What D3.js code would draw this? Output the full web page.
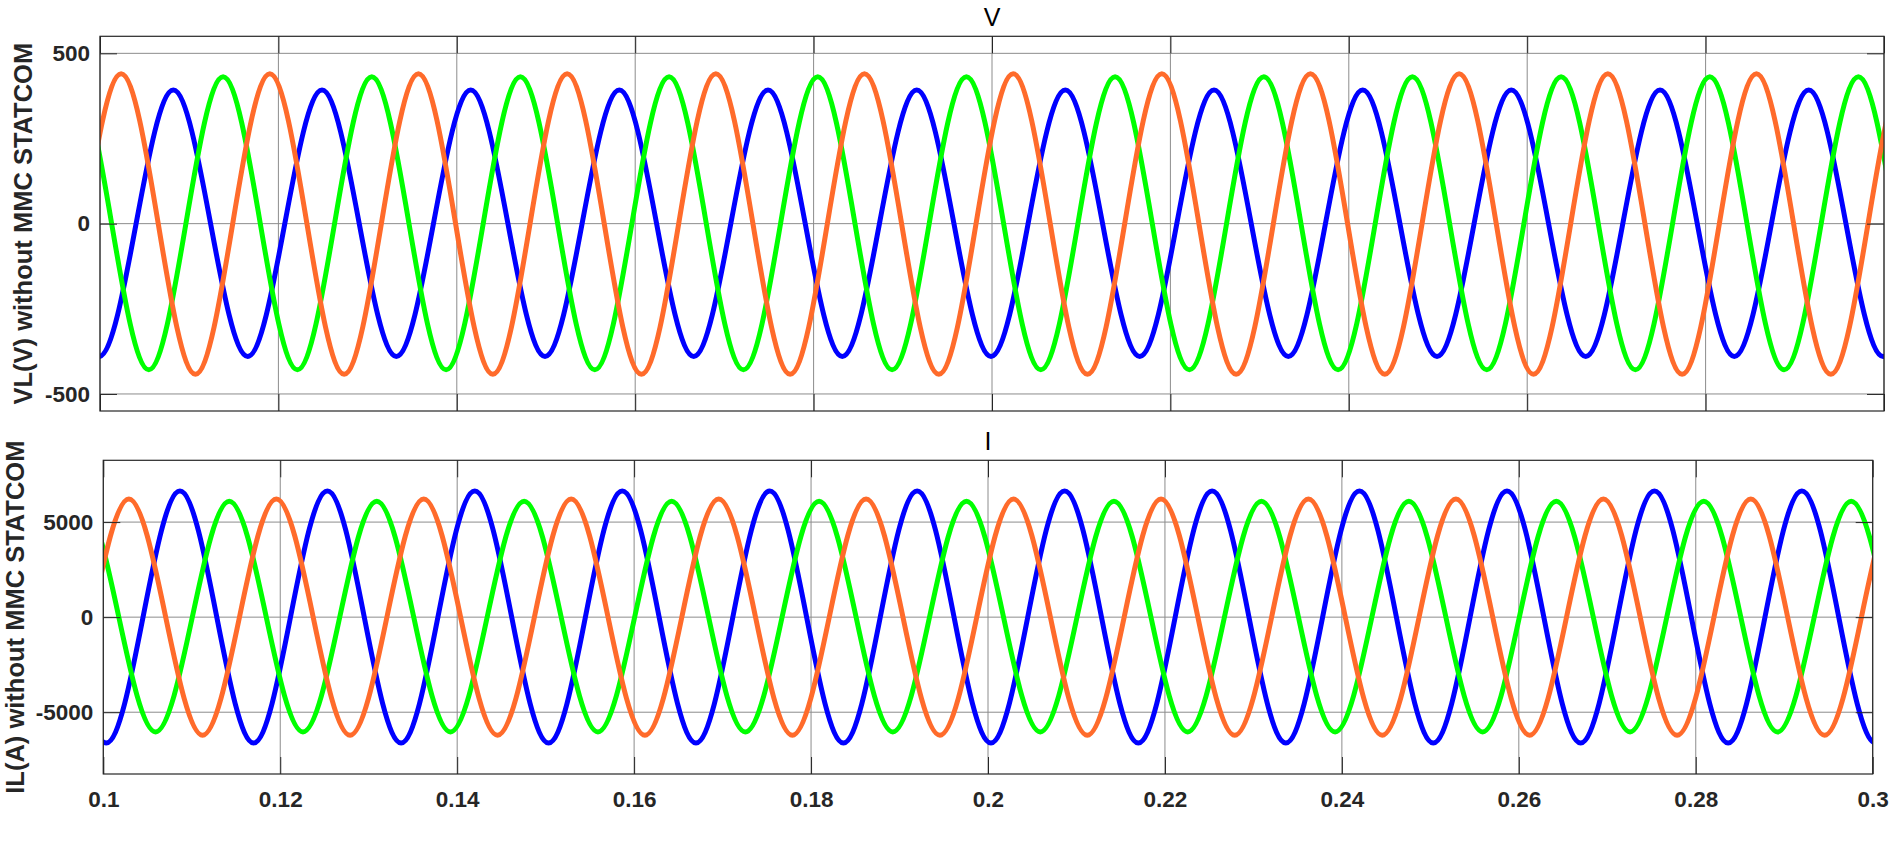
<!DOCTYPE html>
<html>
<head>
<meta charset="utf-8">
<script src="https://cdn.jsdelivr.net/npm/d3@7"></script>
<style>
  body { margin: 0; background: #fff; }
  text { font-family: "Liberation Sans", Arial, sans-serif; }
</style>
</head>
<body>
<div id="chart"></div>
<script>
// time ticks shared by both panels
const xTicks = [0.1, 0.12, 0.14, 0.16, 0.18, 0.2, 0.22, 0.24, 0.26, 0.28, 0.3];
const vTicks = [-500, 0, 500];
const iTicks = [-5000, 0, 5000];

// extrema (peaks / troughs), [time, value]
// one or two extra extrema on each side so the curve is right at the plot edges
const vBlue = [
  [0.09156, 392],
  [0.09989, -390], [0.10822, 392], [0.11656, -390], [0.12489, 392], [0.13322, -390],
  [0.14156, 392], [0.14989, -390], [0.15822, 392], [0.16656, -390], [0.17489, 392],
  [0.18322, -390], [0.19156, 392], [0.19989, -390], [0.20822, 392], [0.21656, -390],
  [0.22489, 392], [0.23322, -390], [0.24156, 392], [0.24989, -390], [0.25822, 392],
  [0.26656, -390], [0.27489, 392], [0.28322, -390], [0.29156, 392], [0.29989, -390],
  [0.30822, 392], [0.31656, -390]
];
const vGreen = [
  [0.08880, -429],
  [0.09713, 431], [0.10547, -429], [0.11380, 431], [0.12213, -429], [0.13047, 431],
  [0.13880, -429], [0.14713, 431], [0.15547, -429], [0.16380, 431], [0.17213, -429],
  [0.18047, 431], [0.18880, -429], [0.19713, 431], [0.20547, -429], [0.21380, 431],
  [0.22213, -429], [0.23047, 431], [0.23880, -429], [0.24713, 431], [0.25547, -429],
  [0.26380, 431], [0.27213, -429], [0.28047, 431], [0.28880, -429], [0.29713, 431],
  [0.30547, -429], [0.31380, 431]
];
const vOrange = [
  [0.08570, 440],
  [0.09404, -442], [0.10237, 440], [0.11070, -442], [0.11904, 440], [0.12737, -442],
  [0.13570, 440], [0.14404, -442], [0.15237, 440], [0.16070, -442], [0.16904, 440],
  [0.17737, -442], [0.18570, 440], [0.19404, -442], [0.20237, 440], [0.21070, -442],
  [0.21904, 440], [0.22737, -442], [0.23570, 440], [0.24404, -442], [0.25237, 440],
  [0.26070, -442], [0.26904, 440], [0.27737, -442], [0.28570, 440], [0.29404, -442],
  [0.30237, 440], [0.31070, -442]
];

const iBlue = [
  [0.08366, -6620],
  [0.09199, 6630], [0.10033, -6620], [0.10866, 6630], [0.11699, -6620], [0.12533, 6630],
  [0.13366, -6620], [0.14199, 6630], [0.15033, -6620], [0.15866, 6630], [0.16699, -6620],
  [0.17533, 6630], [0.18366, -6620], [0.19199, 6630], [0.20033, -6620], [0.20866, 6630],
  [0.21699, -6620], [0.22533, 6630], [0.23366, -6620], [0.24199, 6630], [0.25033, -6620],
  [0.25866, 6630], [0.26699, -6620], [0.27533, 6630], [0.28366, -6620], [0.29199, 6630],
  [0.30033, -6620], [0.30866, 6630]
];
const iGreen = [
  [0.08924, -6040],
  [0.09757, 6100], [0.10591, -6040], [0.11424, 6100], [0.12257, -6040], [0.13091, 6100],
  [0.13924, -6040], [0.14757, 6100], [0.15591, -6040], [0.16424, 6100], [0.17257, -6040],
  [0.18091, 6100], [0.18924, -6040], [0.19757, 6100], [0.20591, -6040], [0.21424, 6100],
  [0.22257, -6040], [0.23091, 6100], [0.23924, -6040], [0.24757, 6100], [0.25591, -6040],
  [0.26424, 6100], [0.27257, -6040], [0.28091, 6100], [0.28924, -6040], [0.29757, 6100],
  [0.30591, -6040], [0.31424, 6100]
];
const iOrange = [
  [0.08622, 6210],
  [0.09456, -6210], [0.10289, 6210], [0.11122, -6210], [0.11956, 6210], [0.12789, -6210],
  [0.13622, 6210], [0.14456, -6210], [0.15289, 6210], [0.16122, -6210], [0.16956, 6210],
  [0.17789, -6210], [0.18622, 6210], [0.19456, -6210], [0.20289, 6210], [0.21122, -6210],
  [0.21956, 6210], [0.22789, -6210], [0.23622, 6210], [0.24456, -6210], [0.25289, 6210],
  [0.26122, -6210], [0.26956, 6210], [0.27789, -6210], [0.28622, 6210], [0.29456, -6210],
  [0.30289, 6210], [0.31122, -6210]
];

const width = 1900;
const height = 849;
const axisColor = "#262626";
const gridColor = "#8c8c8c";
const colors = { blue: "#0000ff", green: "#00ff00", orange: "#ff6b2b" };

const panels = [
  {
    id: "v", title: "V", ylabel: "VL(V) without MMC STATCOM",
    left: 100, right: 1884, top: 36.3, bottom: 411, yDomain: [-550, 550],
    yTicks: vTicks, labelX: 32, showX: false,
    series: [[vBlue, colors.blue], [vGreen, colors.green], [vOrange, colors.orange]]
  },
  {
    id: "i", title: "I", ylabel: "IL(A) without MMC STATCOM",
    left: 103.3, right: 1872.7, top: 460.3, bottom: 774, yDomain: [-8250, 8250],
    yTicks: iTicks, labelX: 24, showX: true,
    series: [[iBlue, colors.blue], [iGreen, colors.green], [iOrange, colors.orange]]
  }
];

const svg = d3.select("#chart")
  .append("svg")
  .attr("width", width)
  .attr("height", height);

panels.forEach(p => {
  const w = p.right - p.left;
  const h = p.bottom - p.top;

  const x = d3.scaleLinear().domain([0.1, 0.3]).range([0, w]);
  const y = d3.scaleLinear().domain(p.yDomain).range([h, 0]);

  const g = svg.append("g")
    .attr("transform", `translate(${p.left},${p.top})`);

  svg.append("clipPath")
    .attr("id", "clip-" + p.id)
    .append("rect")
    .attr("width", w)
    .attr("height", h);

  // grid
  g.append("g")
    .selectAll("line")
    .data(xTicks)
    .join("line")
    .attr("x1", d => x(d)).attr("x2", d => x(d))
    .attr("y1", 0).attr("y2", h)
    .attr("stroke", gridColor)
    .attr("stroke-width", 1);

  g.append("g")
    .selectAll("line")
    .data(p.yTicks)
    .join("line")
    .attr("x1", 0).attr("x2", w)
    .attr("y1", d => y(d)).attr("y2", d => y(d))
    .attr("stroke", gridColor)
    .attr("stroke-width", 1);

  // waveforms
  const line = d3.line()
    .x(d => x(d[0]))
    .y(d => y(d[1]))
    .curve(d3.curveMonotoneX);

  const lines = g.append("g").attr("clip-path", `url(#clip-${p.id})`);
  p.series.forEach(([data, color]) => {
    lines.append("path")
      .datum(data)
      .attr("fill", "none")
      .attr("stroke", color)
      .attr("stroke-width", 5)
      .attr("d", line);
  });

  // axes with inward ticks
  const fmtX = d => String(+d.toFixed(2));
  const styleAxis = sel => {
    sel.select(".domain").remove();
    sel.selectAll(".tick line").attr("stroke", axisColor).attr("stroke-width", 1);
    sel.selectAll(".tick text")
      .attr("fill", axisColor)
      .attr("font-size", "22.5px")
      .attr("font-weight", "bold");
  };

  g.append("g")
    .attr("transform", `translate(0,${h})`)
    .call(d3.axisBottom(x).tickValues(xTicks).tickSizeInner(-17).tickSizeOuter(0)
      .tickPadding(17).tickFormat(p.showX ? fmtX : () => ""))
    .call(styleAxis);

  g.append("g")
    .call(d3.axisTop(x).tickValues(xTicks).tickSizeInner(-17).tickSizeOuter(0)
      .tickFormat(() => ""))
    .call(styleAxis);

  g.append("g")
    .call(d3.axisLeft(y).tickValues(p.yTicks).tickSizeInner(-17).tickSizeOuter(0)
      .tickPadding(10).tickFormat(d => String(d)))
    .call(styleAxis);

  g.append("g")
    .attr("transform", `translate(${w},0)`)
    .call(d3.axisRight(y).tickValues(p.yTicks).tickSizeInner(-17).tickSizeOuter(0)
      .tickFormat(() => ""))
    .call(styleAxis);

  // box
  g.append("rect")
    .attr("width", w)
    .attr("height", h)
    .attr("fill", "none")
    .attr("stroke", axisColor)
    .attr("stroke-width", 1.2);

  // title
  svg.append("text")
    .attr("x", p.left + w / 2)
    .attr("y", p.top - 10.5)
    .attr("text-anchor", "middle")
    .attr("font-size", "25px")
    .attr("fill", "#000")
    .text(p.title);

  // y label
  svg.append("text")
    .attr("transform", `translate(${p.labelX},${p.top + h / 2}) rotate(-90)`)
    .attr("text-anchor", "middle")
    .attr("font-size", "25.5px")
    .attr("font-weight", "bold")
    .attr("fill", axisColor)
    .text(p.ylabel);
});
</script>
</body>
</html>
